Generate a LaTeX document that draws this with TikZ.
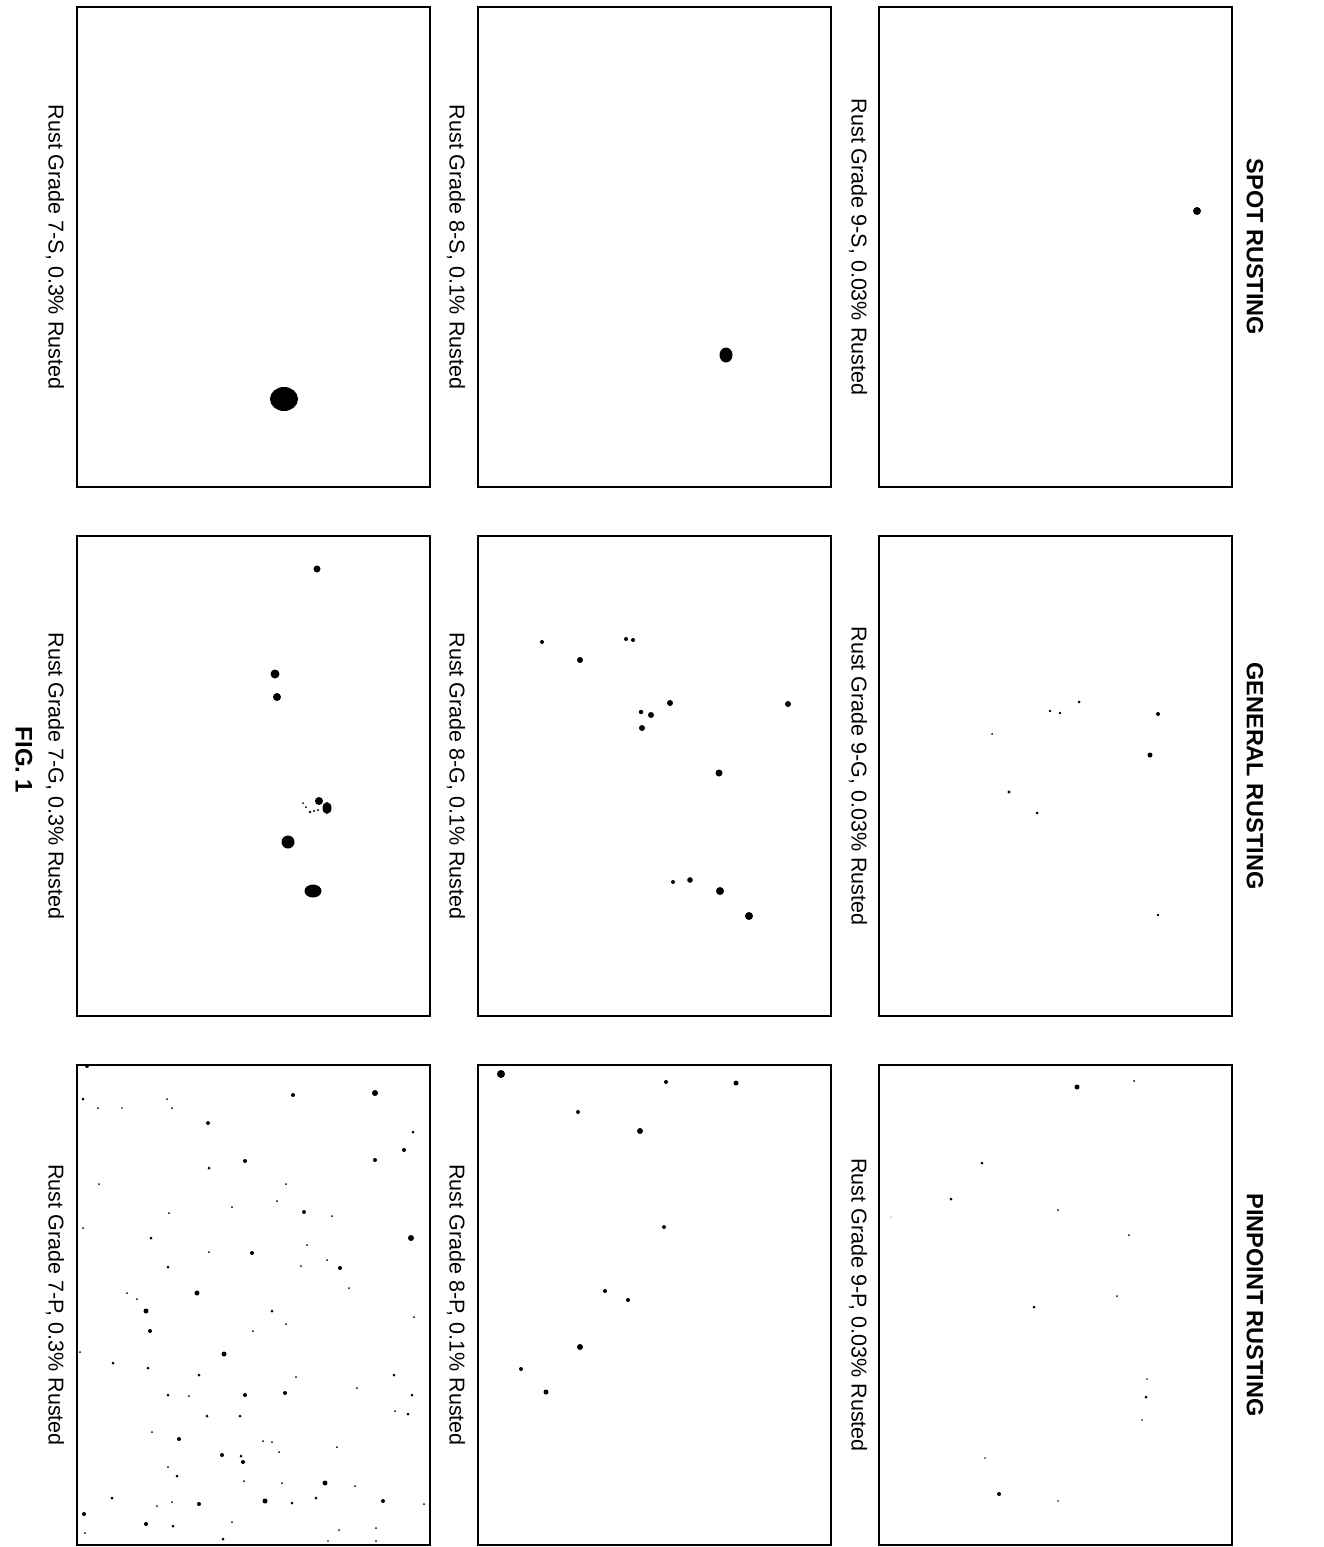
\documentclass[tikz,border=0pt]{standalone}
\usepackage{fontspec}
\setmainfont{Liberation Sans}
\begin{document}
\begin{tikzpicture}[x=1pt,y=-1pt,
  panel/.style={draw=black,line width=2.2pt,minimum width=353pt,minimum height=480pt,inner sep=0pt,outer sep=0pt},
  lbl/.style={rotate=-90,font=\fontsize{21.5}{24}\selectfont,inner sep=0pt},
  hdr/.style={rotate=-90,font=\fontsize{23.5}{26}\selectfont\bfseries,inner sep=0pt},
  figl/.style={rotate=-90,font=\fontsize{24}{27}\selectfont\bfseries,inner sep=0pt}]
\useasboundingbox (0,0) rectangle (1323,1547);
\fill[white] (0,0) rectangle (1323,1547);
% panels
\node[panel] (p7s) at (253.5,247) {};
\node[panel] (p8s) at (654.5,247) {};
\node[panel] (p9s) at (1055.5,247) {};
\node[panel] (p7g) at (253.5,776) {};
\node[panel] (p8g) at (654.5,776) {};
\node[panel] (p9g) at (1055.5,776) {};
\node[panel] (p7p) at (253.5,1305) {};
\node[panel] (p8p) at (654.5,1305) {};
\node[panel] (p9p) at (1055.5,1305) {};
% headers
\node[hdr] (hs) at (1255,247) {SPOT RUSTING};
\node[hdr] (hg) at (1255,776) {GENERAL RUSTING};
\node[hdr] (hp) at (1255,1305) {PINPOINT RUSTING};
% labels
\node[lbl] (l7s) at (55,247) {Rust Grade 7-S, 0.3\% Rusted};
\node[lbl] (l8s) at (456,247) {Rust Grade 8-S, 0.1\% Rusted};
\node[lbl] (l9s) at (858,247) {Rust Grade 9-S, 0.03\% Rusted};
\node[lbl] (l7g) at (55,776) {Rust Grade 7-G, 0.3\% Rusted};
\node[lbl] (l8g) at (456,776) {Rust Grade 8-G, 0.1\% Rusted};
\node[lbl] (l9g) at (858,776) {Rust Grade 9-G, 0.03\% Rusted};
\node[lbl] (l7p) at (55,1305) {Rust Grade 7-P, 0.3\% Rusted};
\node[lbl] (l8p) at (456,1305) {Rust Grade 8-P, 0.1\% Rusted};
\node[lbl] (l9p) at (858,1305) {Rust Grade 9-P, 0.03\% Rusted};
\node[figl] (fig) at (24,760) {FIG. 1};
% spot rusting
\fill (284,399) ellipse (14 and 12);
\fill (726,355) ellipse (6.5 and 7.5);
\fill (1197,211) circle (4);
% general 7-G
\foreach \x/\y/\r in {317/569/3.5,275/674/4.5,277/697/4,319/801/4,288/842/6.5}
  \fill (\x,\y) circle (\r);
\fill (327,808) ellipse (4.5 and 6);
\fill (313,891) ellipse (8.5 and 6.5);
\foreach \x/\y/\r in {303/803/1,306/807/1,310/812/1.3,314/811/1.2,318/810/1.2}
  \fill (\x,\y) circle (\r);
% general 8-G
\foreach \x/\y/\r in {542/642/2,580/660/3,626/639/2,633/640/2,670/703/3,788/704/3,641/712/2.2,651/715/3,642/728/3,719/773/3.5,673/882/2,690/880/2.8,720/891/4,749/916/4}
  \fill (\x,\y) circle (\r);
% general 9-G
\foreach \x/\y/\r in {1079/702/1.5,1050/711/1.3,1060/713/1.3,1158/714/2,992/734/1,1150/755/2.5,1009/792/1.6,1037/813/1.5,1158/915/1.3}
  \fill (\x,\y) circle (\r);
% pinpoint 8-P
\foreach \x/\y/\r in {501/1074/4,666/1082/2,736/1083/2.5,578/1112/2,640/1131/3,664/1227/2,605/1291/2,628/1300/2,580/1347/3,521/1369/2,546/1392/2.5}
  \fill (\x,\y) circle (\r);
% pinpoint 9-P
\foreach \x/\y/\r in {1077/1087/2.5,1134/1081/1,982/1163/1.5,951/1199/1.5,1058/1210/1,1129/1235/1,1034/1307/1.5,1117/1296/1,1146/1397/1.5,1147/1379/0.8,1142/1420/0.8,985/1458/0.8,999/1494/2,1058/1501/0.8,891/1217/0.5}
  \fill (\x,\y) circle (\r);
% pinpoint 7-P
\foreach \x/\y/\r in {87/1066/2,83/1099/1.5,375/1093/3,293/1095/2,208/1123/2,167/1099/1,172/1108/1,98/1108/1,122/1108/0.8,413/1132/1.5,404/1150/2,375/1160/2,245/1161/2,209/1168/1.5,99/1184/1,286/1184/1,277/1201/1,232/1207/1,304/1212/2,169/1213/1,332/1216/1,83/1228/1,411/1238/3,151/1238/1.5,307/1245/1,252/1253/2,209/1252/1,327/1260/1,340/1268/2,301/1266/1,168/1267/1.5,349/1288/1,127/1293/1,197/1293/2.5,137/1299/1,146/1311/2.5,272/1311/1.5,286/1324/1,150/1331/2,253/1331/1,414/1317/1,224/1354/2.5,80/1352/1,113/1363/1.5,148/1368/1.5,199/1375/1.5,296/1377/1,394/1375/1.5,168/1395/1.5,245/1395/2,285/1393/2,357/1388/1,412/1395/1.5,189/1396/1,207/1416/1.5,240/1416/1.5,408/1414/1.5,395/1411/1,179/1439/2,152/1432/1,263/1441/1,272/1442/1,337/1447/1,222/1455/2,241/1456/1.5,243/1462/2,279/1452/1,168/1467/1,177/1476/1.5,244/1481/1,325/1483/2.5,282/1483/1,355/1486/1,112/1498/1.5,199/1504/2,265/1501/2.5,292/1503/1.5,316/1498/1.5,383/1501/2,424/1504/1,84/1514/2,157/1506/1,172/1502/1,146/1524/2,173/1526/1.5,232/1522/1,339/1530/1,376/1528/1,85/1533/1,223/1539/1.5,376/1541/1,328/1541/0.8}
  \fill (\x,\y) circle (\r);
\end{tikzpicture}
\end{document}
